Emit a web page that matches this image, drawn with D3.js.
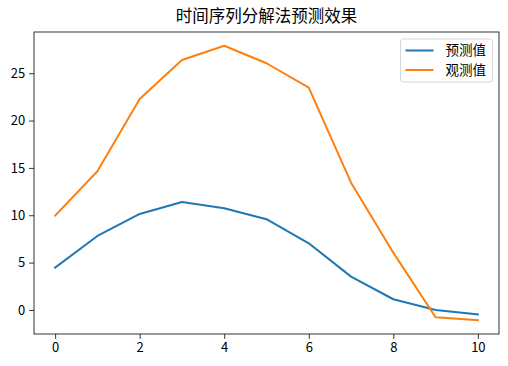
<!DOCTYPE html>
<html>
<head>
<meta charset="utf-8">
<script src="https://cdn.jsdelivr.net/npm/d3@7"></script>
<style>
  body { margin: 0; background: #fff; }
  text { font-family: "Noto Sans CJK SC", "DejaVu Sans", sans-serif; }
</style>
</head>
<body>
<div id="chart"></div>
<script>
// chart data
const xs = [0, 1, 2, 3, 4, 5, 6, 7, 8, 9, 10];
const predicted = [4.47, 7.81, 10.14, 11.4, 10.74, 9.58, 7.04, 3.52, 1.13, 0.0, -0.46];
const observed = [9.96, 14.65, 22.28, 26.4, 27.9, 26.05, 23.47, 13.44, 6.05, -0.77, -1.09];
const seriesNames = ["预测值", "观测值"];
const colors = ["#1f77b4", "#ff7f0e"];
const xTicks = [0, 2, 4, 6, 8, 10];
const yTicks = [0, 5, 10, 15, 20, 25];
const title = "时间序列分解法预测效果";

const width = 508;
const height = 366;
const margin = {left: 34, right: 9, top: 32, bottom: 32};

const svg = d3.select("#chart")
  .append("svg")
  .attr("width", width)
  .attr("height", height);

// matplotlib style 5% padding on both axes
const allY = predicted.concat(observed);
const yMin = d3.min(allY), yMax = d3.max(allY);
const yPad = (yMax - yMin) * 0.05;

const xScale = d3.scaleLinear()
  .domain([-0.5, 10.5])
  .range([margin.left, width - margin.right]);

const yScale = d3.scaleLinear()
  .domain([yMin - yPad, yMax + yPad])
  .range([height - margin.bottom, margin.top]);

// axes
const xAxis = svg.append("g")
  .attr("transform", `translate(0,${height - margin.bottom})`)
  .call(d3.axisBottom(xScale).tickValues(xTicks).tickSize(4.9).tickPadding(4));

const yAxis = svg.append("g")
  .attr("transform", `translate(${margin.left},0)`)
  .call(d3.axisLeft(yScale).tickValues(yTicks).tickSize(4.9).tickPadding(4));

[xAxis, yAxis].forEach(ax => {
  ax.select(".domain").remove();
  ax.selectAll("text").attr("font-size", "13px").attr("fill", "#000")
    .style("font-family", '"Noto Sans CJK SC", sans-serif');
  ax.selectAll("line").attr("stroke", "#000").attr("stroke-width", 0.8);
});

// lines
const line = d3.line()
  .x((d, i) => xScale(xs[i]))
  .y(d => yScale(d));

[predicted, observed].forEach((s, k) => {
  svg.append("path")
    .datum(s)
    .attr("fill", "none")
    .attr("stroke", colors[k])
    .attr("stroke-width", 2)
    .attr("stroke-linejoin", "round")
    .attr("stroke-linecap", "square")
    .attr("d", line);
});

// frame
svg.append("rect")
  .attr("x", margin.left)
  .attr("y", margin.top)
  .attr("width", width - margin.left - margin.right)
  .attr("height", height - margin.top - margin.bottom)
  .attr("fill", "none")
  .attr("stroke", "#000")
  .attr("stroke-width", 0.8);

// title
svg.append("text")
  .attr("x", (margin.left + width - margin.right) / 2)
  .attr("y", 22)
  .attr("text-anchor", "middle")
  .attr("font-size", "16.5px")
  .attr("fill", "#000")
  .text(title);

// legend
const legend = svg.append("g").attr("transform", "translate(400.5,39)");
legend.append("rect")
  .attr("width", 92)
  .attr("height", 43)
  .attr("rx", 3)
  .attr("fill", "#fff")
  .attr("fill-opacity", 0.8)
  .attr("stroke", "#d6d6d6")
  .attr("stroke-width", 1);

seriesNames.forEach((name, k) => {
  const y = 11.5 + k * 19.5;
  legend.append("line")
    .attr("x1", 5).attr("x2", 33)
    .attr("y1", y).attr("y2", y)
    .attr("stroke", colors[k])
    .attr("stroke-width", 2);
  legend.append("text")
    .attr("x", 45)
    .attr("y", y + 4.5)
    .attr("font-size", "13.5px")
    .attr("fill", "#000")
    .text(name);
});
</script>
</body>
</html>
